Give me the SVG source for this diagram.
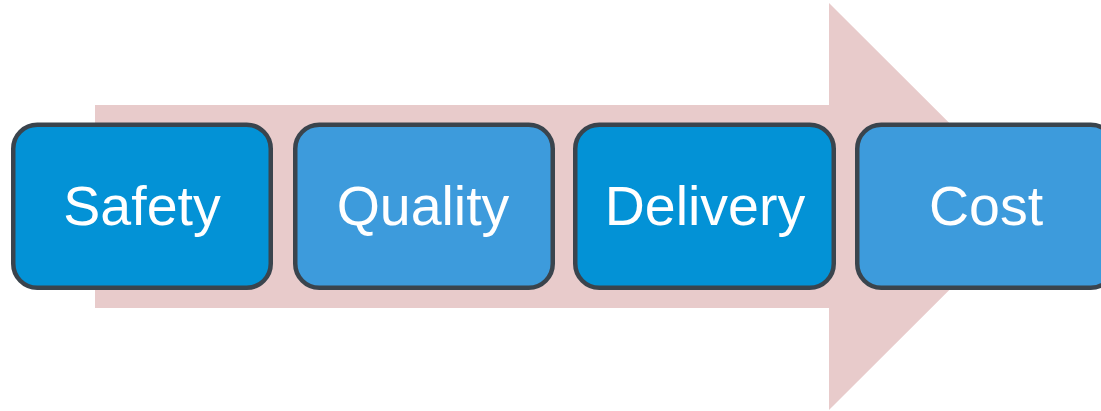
<svg xmlns="http://www.w3.org/2000/svg" width="1101" height="411" viewBox="0 0 1101 411">
<style>
.box{stroke:#3a444d;stroke-width:4.5}
.a{fill:#0392d6}
.b{fill:#3d9bdc}
.t{font-family:"Liberation Sans",Arial,sans-serif;font-size:55.5px;fill:#ffffff;text-anchor:middle}
</style>
<rect width="1101" height="411" fill="#ffffff"/>
<g id="arrow">
<polygon points="95,105 829,105 829,3 1033,206.5 829,410 829,308 95,308" fill="#e8cbcb"/>
</g>
<g id="safety">
<rect class="box a" x="13.25" y="124.75" width="257.5" height="163" rx="24"/>
<text class="t" x="142" y="225">Safety</text>
</g>
<g id="quality">
<rect class="box b" x="295.25" y="124.75" width="257.5" height="163" rx="24"/>
<text class="t" x="423" y="225">Quality</text>
</g>
<g id="delivery">
<rect class="box a" x="575.25" y="124.75" width="258.5" height="163" rx="24"/>
<text class="t" x="705" y="225">Delivery</text>
</g>
<g id="cost">
<rect class="box b" x="857.25" y="124.75" width="257.5" height="163" rx="24"/>
<text class="t" x="986" y="225">Cost</text>
</g>
<g id="connectors"></g>
</svg>
